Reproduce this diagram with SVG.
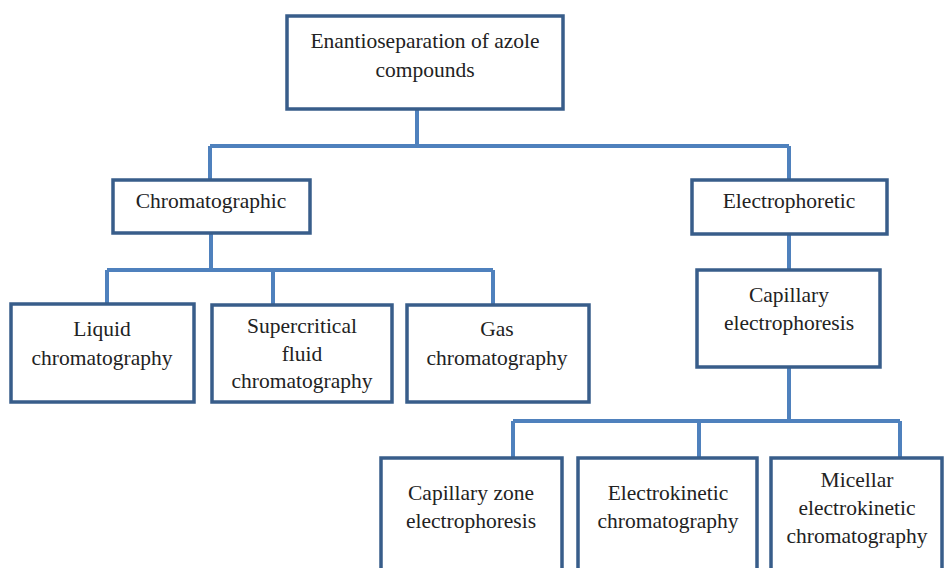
<svg xmlns="http://www.w3.org/2000/svg" width="944" height="568" viewBox="0 0 944 568">
<style>
.box{fill:#fff;stroke:#385d8a;stroke-width:3.5}
.con{fill:none;stroke:#4f81bd;stroke-width:4}
.t{font-family:'Liberation Serif', 'DejaVu Serif', serif;font-size:21.5px;fill:#222;text-anchor:middle;dominant-baseline:middle}
</style>
<rect width="944" height="568" fill="#fff"/>
<g id="connectors">
<path class="con" d="M417 109V146M210 146H789M210 146V180M789 146V180"/>
<path class="con" d="M211 233V270M107 270H493M107 270V304M273 270V305M493 270V305"/>
<path class="con" d="M789 234V270M789 367V421M513 421H900M513 421V458M699 421V458M900 421V458"/>
</g>
<g id="root"><rect class="box" x="287" y="16" width="276" height="93"/><text class="t" x="425" y="43">Enantioseparation of azole</text><text class="t" x="425" y="72">compounds</text></g>
<g id="chromatographic"><rect class="box" x="113" y="180" width="197" height="53"/><text class="t" x="211" y="203">Chromatographic</text></g>
<g id="electrophoretic"><rect class="box" x="692" y="180" width="195" height="54"/><text class="t" x="789" y="203">Electrophoretic</text></g>
<g id="liquid"><rect class="box" x="11" y="304" width="183" height="98"/><text class="t" x="102" y="331">Liquid</text><text class="t" x="102" y="360">chromatography</text></g>
<g id="supercritical"><rect class="box" x="212" y="305" width="180" height="97"/><text class="t" x="302" y="328">Supercritical</text><text class="t" x="302" y="356">fluid</text><text class="t" x="302" y="383">chromatography</text></g>
<g id="gas"><rect class="box" x="407" y="305" width="182" height="97"/><text class="t" x="497" y="331">Gas</text><text class="t" x="497" y="360">chromatography</text></g>
<g id="capillary"><rect class="box" x="697" y="270" width="183" height="97"/><text class="t" x="789" y="297">Capillary</text><text class="t" x="789" y="325">electrophoresis</text></g>
<g id="cze"><rect class="box" x="381" y="458" width="181" height="130"/><text class="t" x="471" y="495">Capillary zone</text><text class="t" x="471" y="523">electrophoresis</text></g>
<g id="ekc"><rect class="box" x="578" y="458" width="179" height="130"/><text class="t" x="668" y="495">Electrokinetic</text><text class="t" x="668" y="523">chromatography</text></g>
<g id="mekc"><rect class="box" x="771" y="458" width="171" height="130"/><text class="t" x="857" y="482">Micellar</text><text class="t" x="857" y="510">electrokinetic</text><text class="t" x="857" y="538">chromatography</text></g>
</svg>
